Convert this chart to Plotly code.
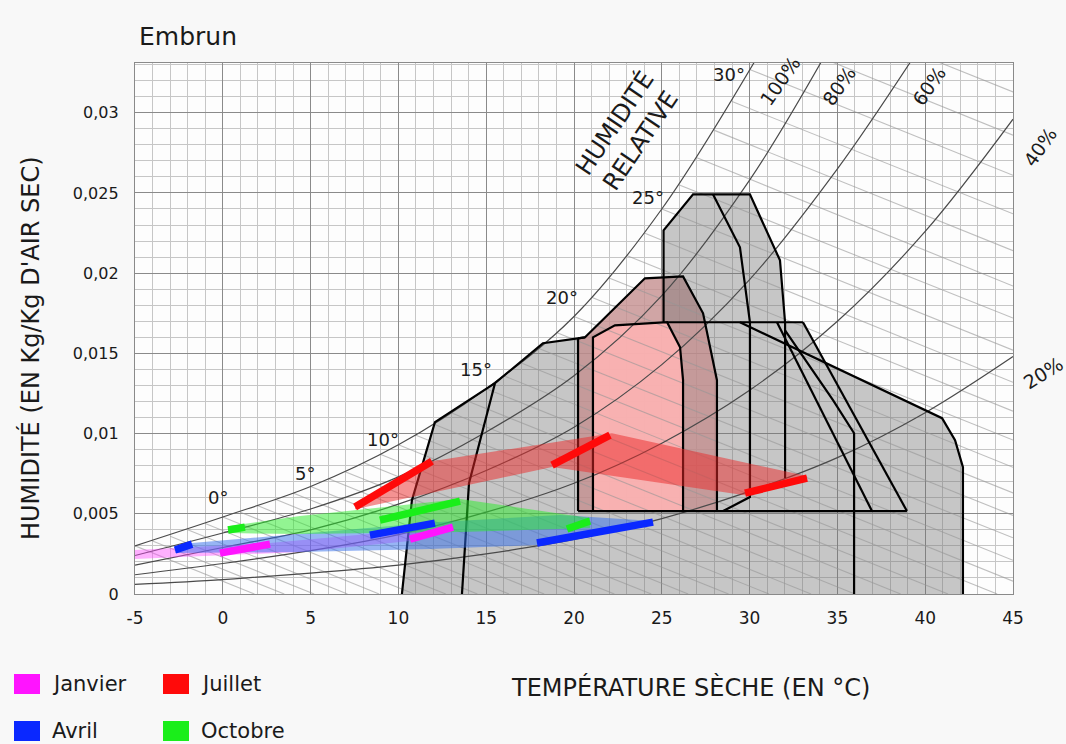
import plotly.graph_objects as go

# ---------------------------------------------------------------
# Psychrometric chart "Embrun"
# x: dry bulb temperature (°C), y: humidity ratio (kg/kg dry air)
# ---------------------------------------------------------------

x_tick_vals = [-5, 0, 5, 10, 15, 20, 25, 30, 35, 40, 45]
x_tick_text = ['-5', '0', '5', '10', '15', '20', '25', '30', '35', '40', '45']
y_tick_vals = [0, 0.005, 0.01, 0.015, 0.02, 0.025, 0.03]
y_tick_text = ['0', '0,005', '0,01', '0,015', '0,02', '0,025', '0,03']

# relative humidity curves
rh100_t = [-5, 0, 5, 10, 15, 20, 25, 30.4]
rh100_w = [0.0030, 0.0048, 0.0067, 0.0093, 0.0128, 0.0173, 0.0240, 0.0334]
rh80_t = [-5, 0, 5, 10, 15, 20, 25, 30, 34.2]
rh80_w = [0.0024, 0.0038, 0.0053, 0.0073, 0.0101, 0.0136, 0.0186, 0.0258, 0.0334]
rh60_t = [-5, 0, 5, 10, 15, 20, 25, 30, 35, 39.3]
rh60_w = [0.0018, 0.0029, 0.0040, 0.0056, 0.0077, 0.0104, 0.0143, 0.0196, 0.0265, 0.0334]
rh40_t = [-5, 0, 5, 10, 15, 20, 25, 30, 35, 40, 45]
rh40_w = [0.0012, 0.0019, 0.0027, 0.0037, 0.0051, 0.0069, 0.0094, 0.0127, 0.0170, 0.0226, 0.0296]
rh20_t = [-5, 0, 5, 10, 15, 20, 25, 30, 35, 40, 45]
rh20_w = [0.0006, 0.0009, 0.0013, 0.0018, 0.0025, 0.0034, 0.0047, 0.0064, 0.0085, 0.0113, 0.0148]

# wet bulb lines (start on the saturation curve, run down to the right)
wb_start_t = [-5, -4, -3, -2, -1, 0, 1, 2, 3, 4, 5, 6, 7, 8, 9, 10, 11, 12, 13,
              14, 15, 16, 17, 18, 19, 20, 21, 22, 23, 24, 25, 26, 27, 28, 29, 30, 31, 32]
wb_start_w = [0.0030, 0.0033, 0.0036, 0.0040, 0.0044, 0.0048, 0.0051, 0.0055, 0.0059,
              0.0063, 0.0067, 0.0072, 0.0076, 0.0082, 0.0087, 0.0093, 0.0099, 0.0106,
              0.0113, 0.0120, 0.0128, 0.0136, 0.0144, 0.0153, 0.0163, 0.0173, 0.0185,
              0.0197, 0.0211, 0.0225, 0.0240, 0.0255, 0.0272, 0.0289, 0.0307, 0.0327,
              0.0348, 0.0370]
wb_end_t = [1.8, 3.5, 5.2, 7.1, 8.9, 10.9, 12.7, 14.5, 16.3, 18.3, 20.2, 22.3, 24.4,
            26.5, 28.8, 31.1, 33.5, 36.0, 38.6, 41.3, 44.1, 45, 45, 45, 45, 45, 45,
            45, 45, 45, 45, 45, 45, 45, 45, 45, 45, 45]
wb_end_w = [0, 0, 0, 0, 0, 0, 0, 0, 0, 0, 0, 0, 0, 0, 0, 0, 0, 0, 0, 0, 0,
            0.0008, 0.0021, 0.0035, 0.0049, 0.0063, 0.0079, 0.0096, 0.0114, 0.0132,
            0.0152, 0.0172, 0.0192, 0.0214, 0.0237, 0.0261, 0.0286, 0.0313]

wb_label_text = ['0°', '5°', '10°', '15°', '20°', '25°', '30°']
wb_label_t = [-0.3, 4.7, 9.1, 14.4, 19.3, 24.2, 28.8]
wb_label_w = [0.0060, 0.0075, 0.0096, 0.0140, 0.0185, 0.0247, 0.0324]

# strategy zones
zone_env_t = [10.2, 10.77, 12.08, 15.5, 18.23, 20.23, 20.63, 22.33, 25.3, 33.04, 34.3,
              40.96, 41.7, 42.15, 42.15]
zone_env_w = [0, 0.00585, 0.01071, 0.01314, 0.01563, 0.01594, 0.016, 0.01675, 0.01694,
              0.01694, 0.01438, 0.01096, 0.00959, 0.0079, 0]
tall_t = [25.1, 25.1, 26.78, 30.02, 31.73, 32.02]
tall_w = [0.01694, 0.02267, 0.02491, 0.02491, 0.0208, 0.01694]
pink_dark_t = [20.23, 20.63, 24.04, 26.21, 27.35, 28.14, 28.14, 20.23]
pink_dark_w = [0.01594, 0.016, 0.01968, 0.0198, 0.0175, 0.01333, 0.00517, 0.00517]
pink_light_t = [21.08, 21.08, 22.33, 25.3, 26.04, 26.21, 26.21]
pink_light_w = [0.00517, 0.016, 0.01675, 0.01694, 0.01538, 0.01333, 0.00517]

# zone outlines
outline_left_t = [10.2, 10.77, 12.08, 15.5, 18.23, 20.23, 20.63]
outline_left_w = [0, 0.00585, 0.01071, 0.01314, 0.01563, 0.01594, 0.016]
outline_inner_t = [13.62, 14.02, 15.5]
outline_inner_w = [0, 0.00691, 0.01314]
outline_v20_t = [20.23, 20.23]
outline_v20_w = [0.01594, 0.00517]
outline_base_t = [20.23, 38.96]
outline_base_w = [0.00517, 0.00517]
outline_top_t = [25.3, 33.04]
outline_top_w = [0.01694, 0.01694]
outline_tallin_t = [27.92, 29.45, 30.02, 30.02, 28.49]
outline_tallin_w = [0.02491, 0.02161, 0.01694, 0.00604, 0.00517]
outline_v32_t = [32.02, 32.02]
outline_v32_w = [0.01694, 0.00722]
outline_d1_t = [33.04, 38.96]
outline_d1_w = [0.01694, 0.00517]
outline_d2_t = [31.56, 35.32, 36.97]
outline_d2_w = [0.01694, 0.00878, 0.00517]
outline_d3_t = [32.02, 34.75, 35.95, 35.95]
outline_d3_w = [0.01644, 0.01208, 0.01002, 0]
outline_right_t = [29.45, 40.96, 41.7, 42.15, 42.15]
outline_right_w = [0.01694, 0.01096, 0.00959, 0.0079, 0]

# monthly climate: daily lines (min -> max) and the band that joins them
months = ['Janvier', 'Avril', 'Juillet', 'Octobre']
jan_tmin = [-0.16, 10.66]
jan_wmin = [0.00255, 0.00342]
jan_tmax = [2.69, 13.11]
jan_wmax = [0.00311, 0.00417]
jan_band_t = [-5, 2.69, 13.11, 13.11, 10.66, 4.4, -5]
jan_band_w = [0.00274, 0.00318, 0.00423, 0.00392, 0.0033, 0.00262, 0.00218]

avr_tmin = [-2.72, 8.38, 17.89]
avr_wmin = [0.00274, 0.00367, 0.00318]
avr_tmax = [-1.75, 12.08, 24.5]
avr_wmax = [0.00311, 0.00442, 0.00448]
avr_band_t = [-2.72, -1.75, 12.08, 19.2, 24.5, 24.5, 17.89, 11.8, 4.4, -2.72]
avr_band_w = [0.0028, 0.00318, 0.00448, 0.00492, 0.00455, 0.00436, 0.00305, 0.0028, 0.00262, 0.00255]

jul_tmin = [7.53, 18.75, 29.74]
jul_wmin = [0.00542, 0.00803, 0.00629]
jul_tmax = [11.91, 22.05, 33.27]
jul_wmax = [0.00828, 0.0099, 0.00722]
jul_band_t = [7.53, 11.91, 22.16, 33.27, 33.27, 29.74, 18.75, 7.53]
jul_band_w = [0.00542, 0.00828, 0.01002, 0.00735, 0.00716, 0.00616, 0.00791, 0.00529]

oct_tmin = [0.3, 8.95, 19.6]
oct_wmin = [0.00399, 0.00461, 0.00405]
oct_tmax = [1.26, 13.51, 20.91]
oct_wmax = [0.00417, 0.00579, 0.00455]
oct_band_t = [0.3, 4.4, 13.51, 20.91, 20.91, 13.51, 4.4, 0.3]
oct_band_w = [0.00423, 0.00486, 0.00592, 0.00473, 0.00411, 0.00386, 0.00374, 0.0038]

month_line = ['#ff14ff', '#0a28ff', '#ff0a0a', '#1aee1a']
month_band = ['rgba(255,70,255,0.42)', 'rgba(50,110,235,0.5)',
              'rgba(235,40,40,0.5)', 'rgba(40,235,40,0.5)']

FONT = 'DejaVu Sans'
fig = go.Figure()


def add_line(t, w, color='black', width=2.2, shape='linear'):
    fig.add_trace(go.Scatter(x=t, y=w, mode='lines', hoverinfo='skip',
                             line=dict(color=color, width=width, shape=shape)))


def add_fill(t, w, color):
    fig.add_trace(go.Scatter(x=t, y=w, mode='lines', fill='toself', fillcolor=color,
                             line=dict(width=0), hoverinfo='skip'))


# zone fills
add_fill(zone_env_t, zone_env_w, 'rgba(115,115,115,0.4)')
add_fill(pink_dark_t, pink_dark_w, 'rgba(196,142,142,0.8)')
add_fill(tall_t, tall_w, 'rgba(115,115,115,0.4)')
add_fill(pink_light_t, pink_light_w, 'rgba(255,180,180,0.88)')

# wet bulb lines
wb_x, wb_y = [], []
for t0, w0, t1, w1 in zip(wb_start_t, wb_start_w, wb_end_t, wb_end_w):
    wb_x += [t0, t1, None]
    wb_y += [w0, w1, None]
add_line(wb_x, wb_y, color='rgba(150,150,150,0.6)', width=1.1)

# relative humidity curves
for t, w in [(rh100_t, rh100_w), (rh80_t, rh80_w), (rh60_t, rh60_w),
             (rh40_t, rh40_w), (rh20_t, rh20_w)]:
    add_line(t, w, color='#4a4a4a', width=1.2, shape='spline')

# zone outlines
for t, w in [(outline_left_t, outline_left_w), (outline_inner_t, outline_inner_w),
             (outline_v20_t, outline_v20_w), (outline_base_t, outline_base_w),
             (outline_top_t, outline_top_w), (outline_tallin_t, outline_tallin_w),
             (outline_v32_t, outline_v32_w), (outline_d1_t, outline_d1_w),
             (outline_d2_t, outline_d2_w), (outline_d3_t, outline_d3_w),
             (outline_right_t, outline_right_w), (tall_t, tall_w),
             (pink_dark_t[:-1], pink_dark_w[:-1]), (pink_light_t, pink_light_w)]:
    add_line(t, w)

# monthly bands and daily lines
for bt, bw, col in [(jan_band_t, jan_band_w, month_band[0]),
                    (avr_band_t, avr_band_w, month_band[1]),
                    (jul_band_t, jul_band_w, month_band[2]),
                    (oct_band_t, oct_band_w, month_band[3])]:
    add_fill(bt, bw, col)
for (tmin, wmin, tmax, wmax), col in zip([(jan_tmin, jan_wmin, jan_tmax, jan_wmax),
                                          (avr_tmin, avr_wmin, avr_tmax, avr_wmax),
                                          (jul_tmin, jul_wmin, jul_tmax, jul_wmax),
                                          (oct_tmin, oct_wmin, oct_tmax, oct_wmax)],
                                         month_line):
    for a, b, c, d in zip(tmin, wmin, tmax, wmax):
        add_line([a, c], [b, d], color=col, width=7.5)

# ---- layout ----
L, R, T, B = 135, 53, 63, 150
W, H = 1066, 744
pw, ph = W - L - R, H - T - B


def px(xp):
    return (xp - L) / pw


def py(yp):
    return (H - B - yp) / ph


TXT = '#1a1a1a'
annotations = [
    dict(text='Embrun', x=px(137), y=py(37), xanchor='left',
         font=dict(size=25, color=TXT)),
    dict(text='TEMPÉRATURE SÈCHE (EN °C)', x=px(690), y=py(687),
         font=dict(size=24, color=TXT)),
    dict(text="HUMIDITÉ (EN Kg/Kg D'AIR SEC)", x=px(30), y=py(348), textangle=-90,
         font=dict(size=24, color=TXT)),
    dict(text='HUMIDITÉ<br>RELATIVE', x=px(627), y=py(132), textangle=-56,
         font=dict(size=24, color=TXT)),
    dict(text='100%', x=px(780), y=py(81), textangle=-55, font=dict(size=19, color=TXT)),
    dict(text='80%', x=px(839), y=py(86), textangle=-55, font=dict(size=19, color=TXT)),
    dict(text='60%', x=px(929), y=py(86), textangle=-55, font=dict(size=19, color=TXT)),
    dict(text='40%', x=px(1040), y=py(147), textangle=-55, font=dict(size=19, color=TXT)),
    dict(text='20%', x=px(1043), y=py(373), textangle=-32, font=dict(size=19, color=TXT)),
]
for s, t, w in zip(wb_label_text, wb_label_t, wb_label_w):
    annotations.append(dict(text=s, x=t, y=w, xref='x', yref='y',
                            font=dict(size=18, color=TXT)))

# legend (two columns below the chart)
legend_pos = [(14, 684), (14, 731), (163, 684), (163, 731)]
shapes = []
for name, col, (lx, ly) in zip(['Janvier', 'Avril', 'Juillet', 'Octobre'],
                               ['#ff14ff', '#0a28ff', '#ff0a0a', '#1aee1a'], legend_pos):
    shapes.append(dict(type='rect', xref='paper', yref='paper',
                       x0=px(lx), x1=px(lx + 26), y0=py(ly + 10), y1=py(ly - 10),
                       fillcolor=col, line=dict(width=0)))
    annotations.append(dict(text=name, x=px(lx + 36), y=py(ly), xanchor='left',
                            font=dict(size=21, color=TXT)))

for a in annotations:
    a.setdefault('xref', 'paper')
    a.setdefault('yref', 'paper')
    a.setdefault('xanchor', 'center')
    a.setdefault('yanchor', 'middle')
    a['showarrow'] = False

fig.update_layout(
    width=W, height=H,
    margin=dict(l=L, r=R, t=T, b=B),
    paper_bgcolor='#f8f8f8',
    plot_bgcolor='#fdfdfd',
    showlegend=False,
    hovermode=False,
    font=dict(family=FONT, color=TXT),
    annotations=annotations,
    shapes=shapes,
    xaxis=dict(range=[-5, 45], tickvals=x_tick_vals, ticktext=x_tick_text, ticks='',
               showgrid=True, gridcolor='#8a8a8a', gridwidth=1.3, zeroline=False,
               showline=True, linecolor='#8a8a8a', linewidth=1.3, mirror=True,
               tickfont=dict(size=17), ticklabelstandoff=8,
               minor=dict(dtick=1, tick0=0, showgrid=True, gridcolor='#c6c6c6', gridwidth=1)),
    yaxis=dict(range=[0, 0.0331], tickvals=y_tick_vals, ticktext=y_tick_text, ticks='',
               showgrid=True, gridcolor='#8a8a8a', gridwidth=1.3, zeroline=False,
               showline=True, linecolor='#8a8a8a', linewidth=1.3, mirror=True,
               tickfont=dict(size=16), ticklabelstandoff=12,
               minor=dict(dtick=0.001, tick0=0, showgrid=True, gridcolor='#c6c6c6', gridwidth=1)),
)

fig.write_html('out.html', config={'displayModeBar': False},
               post_script="document.body.style.margin='0px';")
